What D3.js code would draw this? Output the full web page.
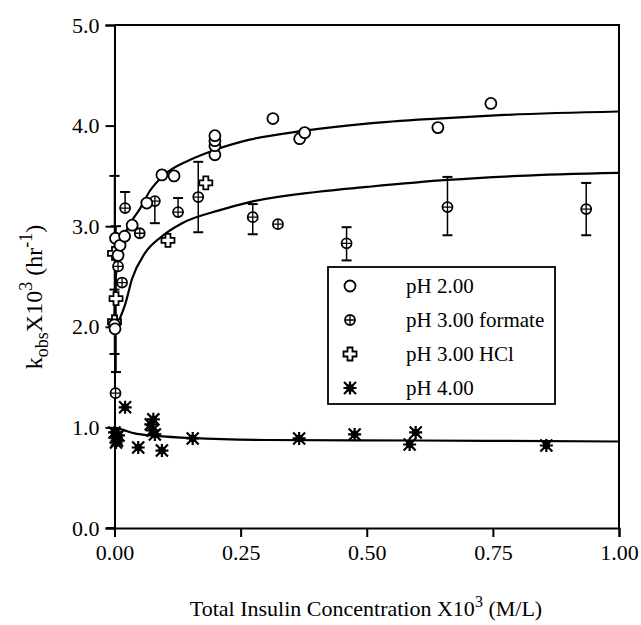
<!DOCTYPE html>
<html>
<head>
<meta charset="utf-8">
<script src="https://cdn.jsdelivr.net/npm/d3@7"></script>
<style>
  body { margin: 0; background: #fff; }
  svg { font-family: "Liberation Serif", "Times New Roman", serif; }
</style>
</head>
<body>
<script>
// Data: [conc, kobs]
const ph2Points = [
  [0.000, 2.02], [0.001, 1.98], [0.002, 2.88], [0.007, 2.71], [0.011, 2.81],
  [0.020, 2.90], [0.035, 3.01], [0.064, 3.23], [0.094, 3.51], [0.118, 3.50],
  [0.199, 3.71], [0.199, 3.80], [0.199, 3.85], [0.199, 3.90],
  [0.314, 4.07], [0.367, 3.87], [0.377, 3.93], [0.641, 3.98], [0.746, 4.22]
];

// formate: [conc, kobs, bar low, bar high] (null = no cap drawn)
const formatePoints = [
  [0.002, 1.34, null, null], [0.007, 2.60, null, null], [0.015, 2.44, null, null],
  [0.021, 3.18, null, 3.34], [0.050, 2.93, null, null], [0.080, 3.25, 3.03, null],
  [0.126, 3.14, null, 3.28], [0.166, 3.29, 2.94, 3.64], [0.274, 3.09, 2.92, 3.22],
  [0.324, 3.02, null, null], [0.460, 2.83, 2.66, 2.99], [0.660, 3.19, 2.91, 3.49],
  [0.935, 3.17, 2.91, 3.43]
];

const hclPoints = [
  [0.000, 2.73, 1.96, 3.50], [0.003, 2.28, 1.55, 3.00], [0.000, 2.05, 1.73, 2.37],
  [0.106, 2.86, null, null], [0.181, 3.43, null, null]
];

const ph4Points = [
  [0.000, 0.95], [0.003, 0.90], [0.005, 0.87], [0.008, 0.92], [0.003, 0.85],
  [0.021, 1.20], [0.047, 0.80], [0.072, 1.03], [0.075, 0.97], [0.077, 1.08],
  [0.080, 0.93], [0.094, 0.77], [0.155, 0.89], [0.366, 0.89], [0.476, 0.93],
  [0.585, 0.83], [0.597, 0.95], [0.856, 0.82]
];

// fitted curves
const ph2Curve = [
  [0.000, 2.00], [0.001, 2.37], [0.005, 2.60], [0.011, 2.79], [0.021, 2.93],
  [0.034, 3.05], [0.050, 3.17], [0.070, 3.35], [0.096, 3.50], [0.150, 3.66],
  [0.200, 3.76], [0.268, 3.86], [0.377, 3.95], [0.500, 4.02], [0.640, 4.07],
  [0.746, 4.10], [1.000, 4.14]
];
const formateCurve = [
  [0.000, 1.95], [0.008, 2.05], [0.021, 2.22], [0.035, 2.48], [0.060, 2.73],
  [0.094, 2.90], [0.134, 3.03], [0.209, 3.16], [0.268, 3.24], [0.400, 3.34],
  [0.500, 3.39], [0.660, 3.46], [0.800, 3.50], [1.000, 3.53]
];
const ph4Curve = [
  [0.000, 1.00], [0.020, 0.97], [0.040, 0.94], [0.070, 0.92], [0.150, 0.895],
  [0.300, 0.875], [0.600, 0.87], [1.000, 0.86]
];

const xTicks = [0, 0.25, 0.5, 0.75, 1.0];
const yTicks = [0, 1, 2, 3, 4, 5];
const legendLabels = ["pH 2.00", "pH 3.00 formate", "pH 3.00 HCl", "pH 4.00"];

const width = 641, height = 625;
const margin = { top: 25, right: 22, bottom: 97, left: 114.5 };
const serif = "Liberation Serif";

const svg = d3.select("body").append("svg")
  .attr("width", width)
  .attr("height", height);

const x = d3.scaleLinear().domain([0, 1]).range([margin.left, width - margin.right]);
const y = d3.scaleLinear().domain([0, 5]).range([height - margin.bottom, margin.top]);

// frame (top and right)
svg.append("path")
  .attr("d", `M${x(0)},${y(5)}H${x(1)}V${y(0)}`)
  .attr("fill", "none").attr("stroke", "#000").attr("stroke-width", 2);

const xAxis = svg.append("g")
  .attr("transform", `translate(0,${y(0)})`)
  .call(d3.axisBottom(x).tickValues(xTicks).tickFormat(d3.format(".2f")).tickSizeOuter(0).tickSize(9).tickPadding(7));
const yAxis = svg.append("g")
  .attr("transform", `translate(${x(0)},0)`)
  .call(d3.axisLeft(y).tickValues(yTicks).tickFormat(d3.format(".1f")).tickSizeOuter(0).tickSize(9).tickPadding(6));

[xAxis, yAxis].forEach(g => {
  g.attr("font-family", serif).attr("font-size", 22);
  g.select(".domain").attr("stroke-width", 2);
  g.selectAll(".tick line").attr("stroke-width", 2);
  g.selectAll("text").attr("fill", "#000");
});
// x axis line runs out to the 0.0 y tick
svg.append("line")
  .attr("x1", x(0) - 8).attr("x2", x(0))
  .attr("y1", y(0)).attr("y2", y(0))
  .attr("stroke", "#000").attr("stroke-width", 2);

// curves
const line = d3.line().x(d => x(d[0])).y(d => y(d[1])).curve(d3.curveMonotoneX);
[ph2Curve, formateCurve, ph4Curve].forEach(c => {
  svg.append("path").datum(c)
    .attr("d", line)
    .attr("fill", "none").attr("stroke", "#000").attr("stroke-width", 2.2);
});

// error bars
function drawBars(points) {
  points.forEach(p => {
    const cx = x(p[0]);
    [p[2], p[3]].forEach(end => {
      if (end == null) return;
      svg.append("line").attr("x1", cx).attr("x2", cx).attr("y1", y(p[1])).attr("y2", y(end))
        .attr("stroke", "#000").attr("stroke-width", 1.5);
      svg.append("line").attr("x1", cx - 5).attr("x2", cx + 5).attr("y1", y(end)).attr("y2", y(end))
        .attr("stroke", "#000").attr("stroke-width", 2);
    });
  });
}
drawBars(formatePoints);
drawBars(hclPoints);

// marker drawing functions
function openCircle(g) {
  g.append("circle").attr("r", 5.5).attr("fill", "#fff").attr("stroke", "#000").attr("stroke-width", 1.8);
}
function plusCircle(g) {
  g.append("circle").attr("r", 5).attr("fill", "#fff").attr("stroke", "#000").attr("stroke-width", 1.8);
  g.append("path").attr("d", "M-5,0H5M0,-5V5").attr("stroke", "#000").attr("stroke-width", 1.3);
}
function openCross(g) {
  g.append("path")
    .attr("d", "M-2.5,-6.5H2.5V-2.5H6.5V2.5H2.5V6.5H-2.5V2.5H-6.5V-2.5H-2.5Z")
    .attr("fill", "#fff").attr("stroke", "#000").attr("stroke-width", 1.8);
}
function asterisk(g) {
  g.append("rect").attr("x", -3.5).attr("y", -3.5).attr("width", 7).attr("height", 7).attr("fill", "#000");
  g.append("path").attr("d", "M-6,-6L6,6M-6,6L6,-6M0,-6.5V6.5M-6.5,0H6.5")
    .attr("stroke", "#000").attr("stroke-width", 2.2);
}

function drawPoints(points, marker) {
  points.forEach(p => {
    const g = svg.append("g").attr("transform", `translate(${x(p[0])},${y(p[1])})`);
    marker(g);
  });
}
drawPoints(ph4Points, asterisk);
drawPoints(hclPoints, openCross);
drawPoints(formatePoints, plusCircle);
drawPoints(ph2Points, openCircle);

// legend
const legend = svg.append("g");
legend.append("rect")
  .attr("x", 328).attr("y", 267).attr("width", 227).attr("height", 137)
  .attr("fill", "#fff").attr("stroke", "#000").attr("stroke-width", 1.8);
const markers = [openCircle, plusCircle, openCross, asterisk];
legendLabels.forEach((lab, i) => {
  const cy = 286 + i * 34;
  const g = legend.append("g").attr("transform", `translate(350,${cy})`);
  markers[i](g);
  legend.append("text")
    .attr("x", 406).attr("y", cy + 7)
    .attr("font-size", 21).attr("fill", "#000")
    .text(lab);
});

// axis titles
svg.append("text")
  .attr("x", 366).attr("y", 616)
  .attr("text-anchor", "middle").attr("font-size", 22)
  .call(t => {
    t.append("tspan").text("Total Insulin Concentration X10");
    t.append("tspan").attr("dy", -9).attr("font-size", 16).text("3");
    t.append("tspan").attr("dy", 9).text(" (M/L)");
  });

svg.append("text")
  .attr("transform", "translate(42,297) rotate(-90)")
  .attr("text-anchor", "middle").attr("font-size", 24)
  .call(t => {
    t.append("tspan").text("k");
    t.append("tspan").attr("dy", 6).attr("font-size", 18).text("obs");
    t.append("tspan").attr("dy", -6).text("X10");
    t.append("tspan").attr("dy", -10).attr("font-size", 18).text("3");
    t.append("tspan").attr("dy", 10).text(" (hr");
    t.append("tspan").attr("dy", -10).attr("font-size", 18).text("-1");
    t.append("tspan").attr("dy", 10).text(")");
  });
</script>
</body>
</html>
